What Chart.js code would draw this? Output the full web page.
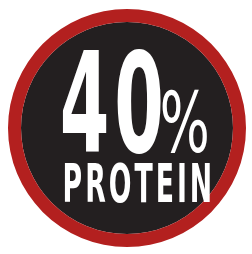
<!DOCTYPE html>
<html>
<head>
<meta charset="utf-8">
<script src="https://cdn.jsdelivr.net/npm/chart.js@4.4.1/dist/chart.umd.min.js"></script>
<style>
  html, body { margin: 0; padding: 0; background: #fff; }
  #badge { display: block; }
</style>
</head>
<body>
<canvas id="badge" width="252" height="254"></canvas>
<script>
const categories = ["Protein"];
const rimValues = [100];
const discValues = [100];
const percentValue = 40;
const badgeLabel = "PROTEIN";

const FONT = '"Liberation Sans Narrow", "DejaVu Sans Condensed", "Roboto", sans-serif';

// squeeze a string so its ink fills the given box
function fitText(ctx, text, left, top, w, h, weight, spacing) {
    ctx.save();
    ctx.font = weight + " 100px " + FONT;
    ctx.letterSpacing = (spacing || 0) + "px";
    const m = ctx.measureText(text);
    const tw = m.actualBoundingBoxLeft + m.actualBoundingBoxRight;
    const th = m.actualBoundingBoxAscent + m.actualBoundingBoxDescent;
    ctx.translate(left, top);
    ctx.scale(w / tw, h / th);
    ctx.textAlign = "left";
    ctx.textBaseline = "alphabetic";
    ctx.fillText(text, m.actualBoundingBoxLeft, m.actualBoundingBoxAscent);
    ctx.restore();
}

const badgeText = {
    id: "badgeText",
    afterDatasetsDraw(chart) {
        const arc = chart.getDatasetMeta(0).data[0];
        if (!arc) return;
        const cx = arc.x, cy = arc.y;
        const ctx = chart.ctx;
        ctx.fillStyle = "#ffffff";
        fitText(ctx, String(percentValue), cx - 64, cy - 81, 98, 106, "bold", 6);
        fitText(ctx, "%", cx + 35, cy - 38, 45, 63, "normal", 0);
        fitText(ctx, badgeLabel, cx - 62, cy + 35, 145, 40, "bold", 10);
    }
};

new Chart(document.getElementById("badge"), {
    type: "doughnut",
    data: {
        labels: categories,
        datasets: [
            {
                label: "rim",
                data: rimValues,
                backgroundColor: "#b3201f",
                borderWidth: 0,
                weight: 13
            },
            {
                label: "disc",
                data: discValues,
                backgroundColor: "#231f20",
                borderWidth: 0,
                weight: 106
            }
        ]
    },
    options: {
        responsive: false,
        animation: false,
        cutout: 0,
        layout: { padding: { left: 8, right: 6, top: 9, bottom: 7 } },
        plugins: {
            legend: { display: false },
            tooltip: { enabled: false }
        }
    },
    plugins: [badgeText]
});
</script>
</body>
</html>
